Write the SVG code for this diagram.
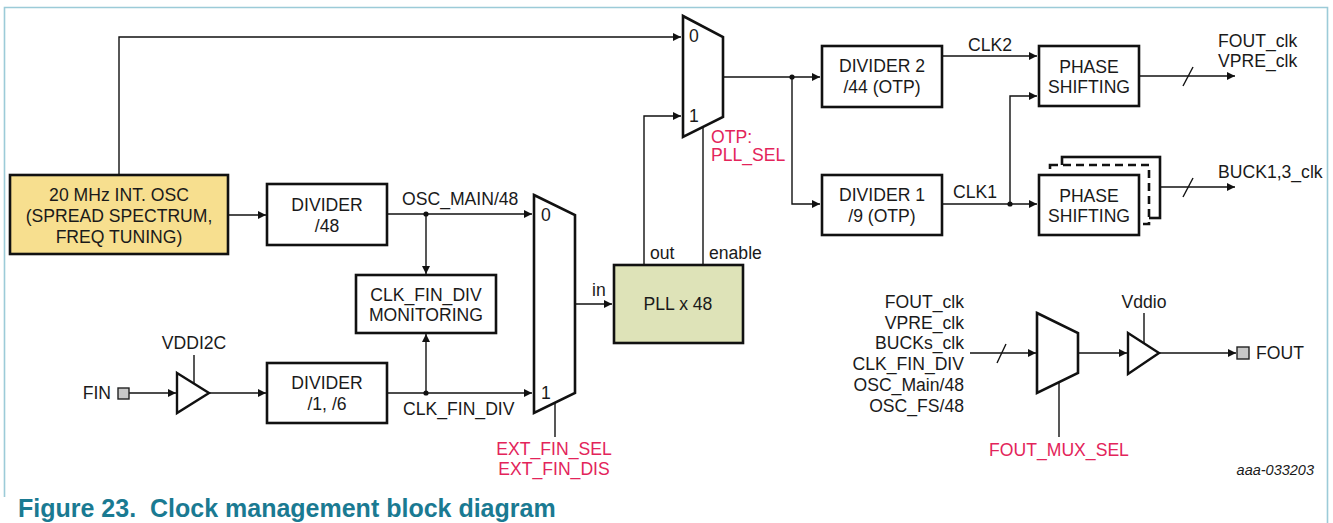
<svg xmlns="http://www.w3.org/2000/svg" width="1333" height="523" viewBox="0 0 1333 523">
<defs>
<style>
.t{font-family:"Liberation Sans",Arial,sans-serif;font-size:17.6px;fill:#1a1a1a}
.c{text-anchor:middle}
.e{text-anchor:end}
.r{fill:#e3245a}
.box{fill:#fff;stroke:#111;stroke-width:2.6}
.mux{fill:#fff;stroke:#111;stroke-width:2.6;stroke-linejoin:miter}
.w{fill:none;stroke:#111;stroke-width:1.4}
.a{marker-end:url(#ah)}
.pad{fill:#c8c8c8;stroke:#222;stroke-width:1.4}
</style>
<marker id="ah" viewBox="0 0 10 10" refX="10" refY="5" markerWidth="9" markerHeight="8" markerUnits="userSpaceOnUse" orient="auto"><path d="M0,0 L10,5 L0,10 z" fill="#111"/></marker>
</defs>
<rect width="1333" height="523" fill="#fff"/>
<path d="M4.5,497 V7.5 H1327.5 V523" fill="none" stroke="#9ccbd8" stroke-width="1.6"/>

<g id="connectors">
<path class="w a" d="M119,174 V37 H681"/>
<path class="w a" d="M228,215 H266"/>
<path class="w a" d="M387,214 H532"/>
<path class="w a" d="M426,214 V274"/>
<path class="w a" d="M129,393 H176"/>
<path class="w a" d="M209,393 H266"/>
<path class="w a" d="M387,393 H532"/>
<path class="w a" d="M426,393 V334"/>
<path class="w" d="M194,355 V383"/>
<path class="w a" d="M575,304 H612"/>
<path class="w" d="M555,403 V437"/>
<path class="w a" d="M644,265 V116 H681"/>
<path class="w" d="M703,265 V127"/>
<path class="w a" d="M723,77 H820"/>
<path class="w a" d="M792,77 V204 H820"/>
<path class="w a" d="M942,56 H1037"/>
<path class="w a" d="M942,204 H1037"/>
<path class="w a" d="M1010,204 V96 H1037"/>
<path class="w a" d="M1139,76 H1235"/>
<path class="w" d="M1183,86 L1193,67"/>
<path class="w a" d="M1160,187 H1235"/>
<path class="w" d="M1183,197 L1193,178"/>
<path class="w a" d="M970,353 H1036"/>
<path class="w" d="M997,363 L1006,344"/>
<path class="w" d="M1059,382 V437"/>
<path class="w a" d="M1078,353 H1127"/>
<path class="w" d="M1144,313 V343"/>
<path class="w a" d="M1159,353 H1236"/>
<circle cx="426" cy="214" r="2.6" fill="#111"/>
<circle cx="426" cy="393" r="2.6" fill="#111"/>
<circle cx="792" cy="77" r="2.6" fill="#111"/>
<circle cx="1010" cy="204" r="2.6" fill="#111"/>
</g>

<g id="osc">
<rect x="10" y="175" width="218" height="79" fill="#f7df8f" stroke="#111" stroke-width="2.6"/>
<text class="t c" x="119" y="201">20 MHz INT. OSC</text>
<text class="t c" x="119" y="222">(SPREAD SPECTRUM,</text>
<text class="t c" x="119" y="243">FREQ TUNING)</text>
</g>
<g id="div48">
<rect class="box" x="267" y="184" width="120" height="61"/>
<text class="t c" x="327" y="211">DIVIDER</text>
<text class="t c" x="327" y="232">/48</text>
</g>
<text class="t" x="402" y="205">OSC_MAIN/48</text>
<g id="monitor">
<rect class="box" x="356" y="275" width="140" height="58"/>
<text class="t c" x="426" y="301">CLK_FIN_DIV</text>
<text class="t c" x="426" y="321">MONITORING</text>
</g>
<text class="t" x="403" y="415">CLK_FIN_DIV</text>
<g id="fin">
<text class="t e" x="111" y="399">FIN</text>
<rect class="pad" x="118" y="388" width="11" height="11"/>
</g>
<g id="buf1">
<path d="M177,373 L209,393 L177,413 Z" fill="#fff" stroke="#111" stroke-width="2.4"/>
<text class="t c" x="194" y="349">VDDI2C</text>
</g>
<g id="div16">
<rect class="box" x="267" y="363" width="120" height="60"/>
<text class="t c" x="327" y="389">DIVIDER</text>
<text class="t c" x="327" y="410">/1, /6</text>
</g>
<g id="mux1">
<path class="mux" d="M534,195 L575,215 L575,393 L534,413 Z"/>
<text class="t" x="541" y="221">0</text>
<text class="t" x="541" y="399">1</text>
<text class="t c r" x="554" y="455">EXT_FIN_SEL</text>
<text class="t c r" x="554" y="475">EXT_FIN_DIS</text>
</g>
<text class="t" x="592" y="296">in</text>
<g id="pll">
<rect x="614" y="265" width="129" height="78" fill="#dee3b8" stroke="#111" stroke-width="2.6"/>
<text class="t c" x="678" y="310">PLL x 48</text>
<text class="t" x="650" y="259">out</text>
<text class="t" x="709" y="259">enable</text>
</g>
<g id="mux2">
<path class="mux" d="M683,16 L723,37 L723,117 L683,137 Z"/>
<text class="t" x="689" y="42">0</text>
<text class="t" x="689" y="122">1</text>
<text class="t r" x="711" y="143">OTP:</text>
<text class="t r" x="711" y="161">PLL_SEL</text>
</g>
<g id="div2">
<rect class="box" x="822" y="46" width="120" height="61"/>
<text class="t c" x="882" y="72">DIVIDER 2</text>
<text class="t c" x="882" y="93">/44 (OTP)</text>
</g>
<g id="div1">
<rect class="box" x="822" y="175" width="120" height="60"/>
<text class="t c" x="882" y="201">DIVIDER 1</text>
<text class="t c" x="882" y="222">/9 (OTP)</text>
</g>
<text class="t" x="968" y="51">CLK2</text>
<text class="t" x="953" y="198">CLK1</text>
<g id="ps1">
<rect class="box" x="1039" y="46" width="100" height="60"/>
<text class="t c" x="1089" y="73">PHASE</text>
<text class="t c" x="1089" y="93">SHIFTING</text>
</g>
<g id="ps2">
<rect class="box" x="1062" y="157" width="98" height="61"/>
<rect x="1050" y="165" width="99" height="59" fill="#fff" stroke="#111" stroke-width="2.6" stroke-dasharray="8,5"/>
<rect class="box" x="1039" y="175" width="100" height="60"/>
<text class="t c" x="1089" y="202">PHASE</text>
<text class="t c" x="1089" y="222">SHIFTING</text>
</g>
<text class="t" x="1218" y="47">FOUT_clk</text>
<text class="t" x="1218" y="67">VPRE_clk</text>
<text class="t" x="1218" y="178">BUCK1,3_clk</text>
<g id="inputs">
<text class="t e" x="964" y="308">FOUT_clk</text>
<text class="t e" x="964" y="329">VPRE_clk</text>
<text class="t e" x="964" y="349">BUCKs_clk</text>
<text class="t e" x="964" y="370">CLK_FIN_DIV</text>
<text class="t e" x="964" y="391">OSC_Main/48</text>
<text class="t e" x="964" y="412">OSC_FS/48</text>
</g>
<g id="mux3">
<path class="mux" d="M1037,313 L1078,333 L1078,373 L1037,393 Z"/>
<text class="t c r" x="1059" y="456">FOUT_MUX_SEL</text>
</g>
<g id="buf2">
<path d="M1128,333 L1159,353 L1128,374 Z" fill="#fff" stroke="#111" stroke-width="2.4"/>
<text class="t c" x="1144" y="308">Vddio</text>
</g>
<g id="fout">
<rect class="pad" x="1237" y="347" width="12" height="12"/>
<text class="t" x="1256" y="359">FOUT</text>
</g>
<text x="1314" y="475" text-anchor="end" font-family="Liberation Sans, Arial, sans-serif" font-size="14.5" font-style="italic" fill="#1a1a1a">aaa-033203</text>
<text x="18" y="517" xml:space="preserve" font-family="Liberation Sans, Arial, sans-serif" font-size="25" font-weight="bold" fill="#1a7a92">Figure 23.  Clock management block diagram</text>
</svg>
